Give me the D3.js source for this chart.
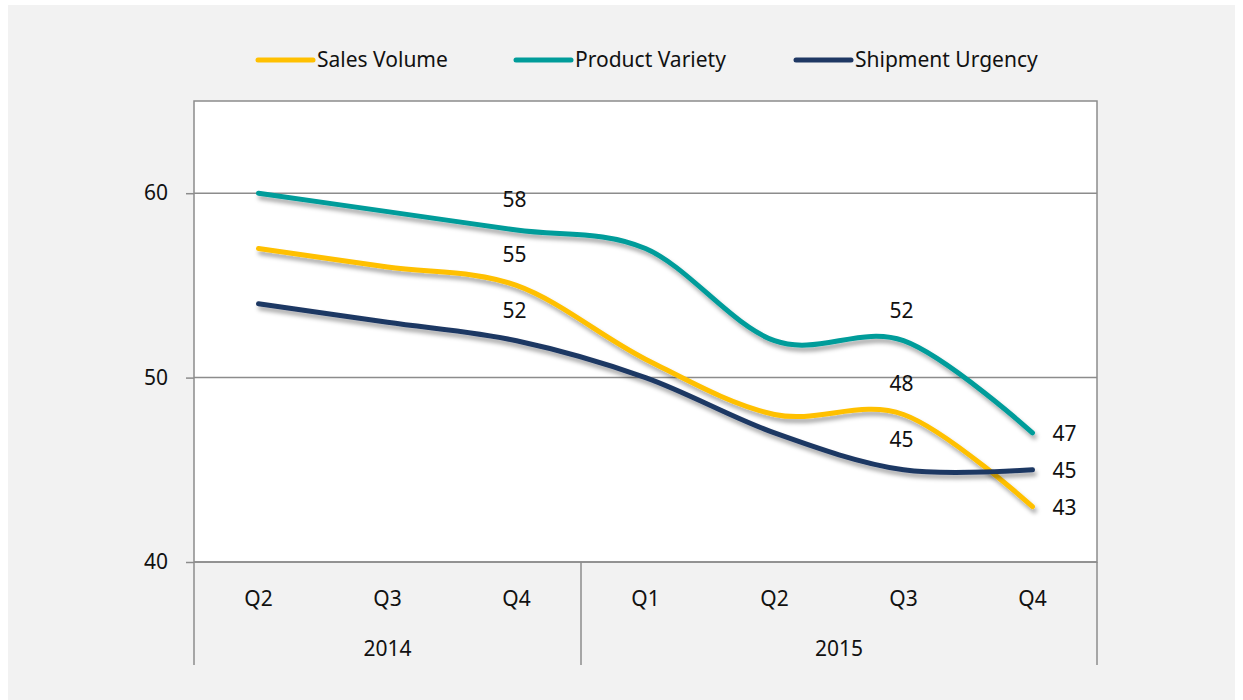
<!DOCTYPE html>
<html>
<head>
<meta charset="utf-8">
<script src="https://cdn.jsdelivr.net/npm/d3@7"></script>
<style>
  body { margin: 0; background: #fff; }
  text { font-family: "Noto Sans", "Open Sans", sans-serif; fill: #111; }
</style>
</head>
<body>
<script>
// data
var quarters = ["Q2", "Q3", "Q4", "Q1", "Q2", "Q3", "Q4"];
var years = ["2014", "2014", "2014", "2015", "2015", "2015", "2015"];
var salesVolume = [57, 56, 55, 51, 48, 48, 43];
var productVariety = [60, 59, 58, 57, 52, 52, 47];
var shipmentUrgency = [54, 53, 52, 50, 47, 45, 45];
var labelled = [2, 5, 6]; // points that carry a value label
var yTicks = [40, 50, 60];

var SERIES = [
    {name: "Sales Volume", values: salesVolume, color: "#FFC000"},
    {name: "Product Variety", values: productVariety, color: "#009C9A"},
    {name: "Shipment Urgency", values: shipmentUrgency, color: "#1F3864"}
];

var W = 1243, H = 700;
var MARGINS = {left: 194, right: 146, top: 101, bottom: 138};
var width = W - MARGINS.left - MARGINS.right;
var height = H - MARGINS.top - MARGINS.bottom;
var FS = "21px";

var svg = d3.select("body").append("svg")
    .attr("width", W)
    .attr("height", H);

// shadow under the lines
var f = svg.append("defs").append("filter")
    .attr("id", "shadow")
    .attr("x", "-10%").attr("y", "-10%")
    .attr("width", "120%").attr("height", "130%");
f.append("feDropShadow")
    .attr("dx", 2).attr("dy", 4)
    .attr("stdDeviation", 2.2)
    .attr("flood-color", "#000")
    .attr("flood-opacity", 0.35);

svg.append("rect")
    .attr("x", 8).attr("y", 5)
    .attr("width", W - 16).attr("height", H - 5)
    .attr("fill", "#F2F2F2");

var g = svg.append("g")
    .attr("transform", "translate(" + MARGINS.left + "," + MARGINS.top + ")");

// scales
var idx = d3.range(quarters.length);
var xScale = d3.scaleBand().domain(idx).range([0, width]);
var yScale = d3.scaleLinear().domain([40, 65]).range([height, 0]);
var xc = function (i) { return xScale(i) + xScale.bandwidth() / 2; };

g.append("rect")
    .attr("width", width).attr("height", height)
    .attr("fill", "#fff")
    .attr("stroke", "#8C8C8C")
    .attr("stroke-width", 1.5);

// gridlines
g.selectAll(".grid").data(yTicks.slice(1)).enter().append("line")
    .attr("x1", 0).attr("x2", width)
    .attr("y1", function (d) { return yScale(d); })
    .attr("y2", function (d) { return yScale(d); })
    .attr("stroke", "#8C8C8C").attr("stroke-width", 1.5);

// y axis
var yAxis = g.append("g")
    .call(d3.axisLeft(yScale).tickValues(yTicks).tickSize(8).tickPadding(18));
yAxis.attr("font-size", null).attr("font-family", null);
yAxis.select(".domain").remove();
yAxis.selectAll(".tick line").attr("stroke", "#8C8C8C").attr("stroke-width", 1.5);
yAxis.selectAll(".tick text")
    .style("font-size", FS)
    .attr("fill", "#111");

// x axis: quarters then years
var xAxis = g.append("g").attr("transform", "translate(0," + height + ")");
xAxis.append("line")
    .attr("x1", 0).attr("x2", width)
    .attr("stroke", "#8C8C8C").attr("stroke-width", 1.5);
xAxis.selectAll(".q").data(idx).enter().append("text")
    .attr("x", function (i) { return xc(i); })
    .attr("y", 44)
    .attr("text-anchor", "middle")
    .style("font-size", FS)
    .text(function (i) { return quarters[i]; });

var yearGroups = d3.groups(idx, function (i) { return years[i]; });
var bounds = [0];
yearGroups.forEach(function (yg) {
    var last = yg[1][yg[1].length - 1];
    bounds.push(xScale(last) + xScale.bandwidth());
});
xAxis.selectAll(".sep").data(bounds).enter().append("line")
    .attr("x1", function (d) { return d; })
    .attr("x2", function (d) { return d; })
    .attr("y1", 0).attr("y2", 103)
    .attr("stroke", "#8C8C8C").attr("stroke-width", 1.5);
xAxis.selectAll(".yr").data(yearGroups).enter().append("text")
    .attr("x", function (d) {
        var a = d[1][0], b = d[1][d[1].length - 1];
        return (xScale(a) + xScale(b) + xScale.bandwidth()) / 2;
    })
    .attr("y", 94)
    .attr("text-anchor", "middle")
    .style("font-size", FS)
    .text(function (d) { return d[0]; });

// lines
var line = d3.line()
    .x(function (d, i) { return xc(i); })
    .y(function (d) { return yScale(d); })
    .curve(d3.curveCardinal.tension(0));

g.selectAll(".series").data(SERIES).enter().append("path")
    .attr("d", function (s) { return line(s.values); })
    .attr("fill", "none")
    .attr("stroke", function (s) { return s.color; })
    .attr("stroke-width", 5)
    .attr("stroke-linecap", "round")
    .attr("filter", "url(#shadow)");

// value labels
SERIES.forEach(function (s) {
    labelled.forEach(function (i) {
        var last = i === quarters.length - 1;
        g.append("text")
            .attr("x", last ? xc(i) + 20 : xc(i) - 2)
            .attr("y", last ? yScale(s.values[i]) + 8 : yScale(s.values[i]) - 23)
            .attr("text-anchor", last ? "start" : "middle")
            .style("font-size", FS)
            .text(s.values[i]);
    });
});

// legend
var legend = svg.append("g").attr("transform", "translate(0,60)");
var legendX = [258, 516, 796];
SERIES.forEach(function (s, i) {
    var lg = legend.append("g").attr("transform", "translate(" + legendX[i] + ",0)");
    lg.append("line")
        .attr("x1", 0).attr("x2", 55)
        .attr("stroke", s.color).attr("stroke-width", 5)
        .attr("stroke-linecap", "round");
    lg.append("text")
        .attr("x", 59).attr("y", 7)
        .style("font-size", FS)
        .text(s.name);
});
</script>
</body>
</html>
